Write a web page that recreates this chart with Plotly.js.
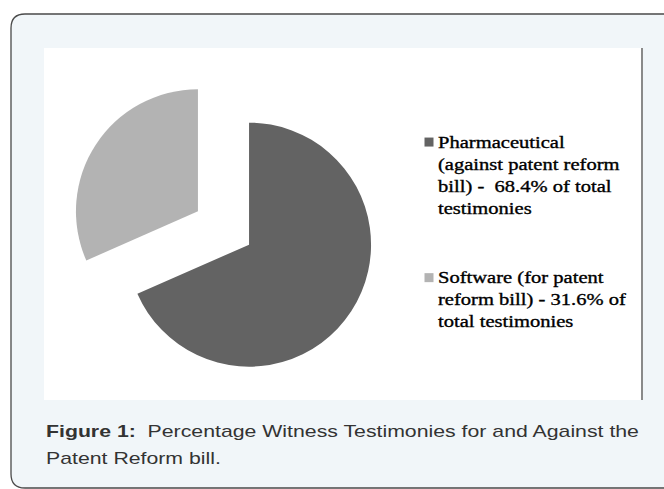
<!DOCTYPE html>
<html>
<head>
<meta charset="utf-8">
<script src="https://cdn.plot.ly/plotly-3.0.1.min.js"></script>
<style>
html, body { margin: 0; padding: 0; background: #ffffff; }
#chart { width: 664px; height: 489px; }
/* the reference figure is horizontally stretched: widen glyphs, keep height */
#chart text.legendtext {
  transform-box: fill-box; transform-origin: 0 50%; transform: scaleX(1.21);
  stroke: #000000; stroke-width: 0.35px;
}
#chart .legend .scrollbox, #chart .legend g { clip-path: none !important; }
/* smaller legend squares sitting close to the text, as in the reference */
#chart g.legendpoints {
  transform: translate(11px, 1px) translate(20px, 0px) scale(0.75) translate(-20px, 0px);
}
#chart text.annotation-text {
  transform-box: fill-box; transform-origin: 0 50%; transform: scaleX(1.33);
}
</style>
</head>
<body>
<div id="chart"></div>
<script>
// ---- data ----
var categories = [
  "Pharmaceutical<br>(against patent reform<br>bill) -\u00a0 68.4% of total<br>testimonies<br> <br> ",
  "Software (for patent<br>reform bill) - 31.6% of<br>total testimonies"
];
var shares = [68.4, 31.6];
var sliceColors = ["#636363", "#b3b3b3"];
var captionBold = "Figure 1:";
var captionLine1 = "\u00a0 Percentage Witness Testimonies for and Against the";
var captionLine2 = "Patent Reform bill.";

// ---- helpers for page-pixel -> paper fraction ----
var W = 664, H = 489;
function px(x) { return x / W; }
function py(y) { return 1 - y / H; }

// rounded card path (left/top/bottom rounded; right edge runs off the page)
var L = 11, T = 14, R = 700, B = 488, rad = 14;
var cardPath =
  "M" + px(L) + "," + py(T + rad) +
  " Q" + px(L) + "," + py(T) + " " + px(L + rad) + "," + py(T) +
  " L" + px(R) + "," + py(T) +
  " L" + px(R) + "," + py(B) +
  " L" + px(L + rad) + "," + py(B) +
  " Q" + px(L) + "," + py(B) + " " + px(L) + "," + py(B - rad) + " Z";

var trace = {
  type: "pie",
  labels: categories,
  values: shares,
  sort: false,
  direction: "clockwise",
  rotation: 0,
  pull: [0.25, 0.25],
  marker: { colors: sliceColors, line: { width: 0 } },
  textinfo: "none",
  hoverinfo: "none",
  domain: { x: [px(71), px(376)], y: [py(380.5), py(75.5)] }
};

var layout = {
  width: W,
  height: H,
  margin: { l: 0, r: 0, t: 0, b: 0 },
  paper_bgcolor: "#ffffff",
  showlegend: true,
  legend: {
    x: px(398), y: py(123.5), xanchor: "left", yanchor: "top",
    valign: "top",
    bgcolor: "rgba(0,0,0,0)", borderwidth: 0,
    font: { family: "Liberation Serif, Times New Roman, serif", size: 17, color: "#000000" },
    traceorder: "normal"
  },
  shapes: [
    { type: "path", xref: "paper", yref: "paper", path: cardPath,
      fillcolor: "#f1f6f9", line: { color: "#4a4a4a", width: 1.3 }, layer: "below" },
    { type: "rect", xref: "paper", yref: "paper",
      x0: px(44), x1: px(641), y0: py(400), y1: py(48),
      fillcolor: "#ffffff", line: { width: 0 }, layer: "below" },
    { type: "line", xref: "paper", yref: "paper",
      x0: px(642), x1: px(642), y0: py(400), y1: py(48),
      line: { color: "#8a8a8a", width: 2 }, layer: "below" }
  ],
  annotations: [
    { xref: "paper", yref: "paper", x: px(44), y: py(442), xanchor: "left", yanchor: "bottom",
      showarrow: false, align: "left",
      text: "<b>" + captionBold + "</b>" + captionLine1,
      font: { family: "Liberation Sans, Arial, sans-serif", size: 16, color: "#333333" } },
    { xref: "paper", yref: "paper", x: px(44), y: py(469), xanchor: "left", yanchor: "bottom",
      showarrow: false, align: "left",
      text: captionLine2,
      font: { family: "Liberation Sans, Arial, sans-serif", size: 16, color: "#333333" } }
  ]
};

Plotly.newPlot("chart", [trace], layout, { displayModeBar: false, staticPlot: true });
</script>
</body>
</html>
